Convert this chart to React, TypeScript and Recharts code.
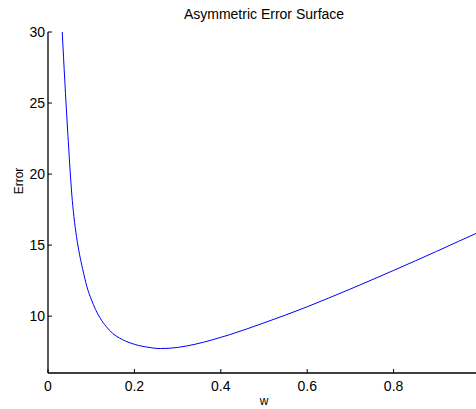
import { LineChart, Line, XAxis, YAxis } from "recharts";

const wValues = [
  0.03, 0.033, 0.036, 0.039, 0.042, 0.046, 0.05, 0.055, 0.06, 0.066, 0.073, 0.08, 0.09, 0.1,
  0.11, 0.12, 0.135, 0.15, 0.165, 0.18, 0.2, 0.22, 0.24, 0.26, 0.28, 0.3, 0.34, 0.38, 0.42,
  0.46, 0.5, 0.55, 0.6, 0.65, 0.7, 0.75, 0.8, 0.85, 0.9, 0.95, 1.0,
];
const errorValues = [
  32.0, 30.0, 28.2, 26.5, 24.85, 22.8, 20.8, 18.6, 17.0, 15.6, 14.35, 13.35, 12.08, 11.2,
  10.47, 9.9, 9.26, 8.78, 8.47, 8.24, 8.02, 7.87, 7.77, 7.72, 7.74, 7.8, 8.02, 8.33, 8.69,
  9.1, 9.53, 10.08, 10.66, 11.28, 11.91, 12.56, 13.22, 13.89, 14.57, 15.26, 15.95,
];
const xTicks = [0, 0.2, 0.4, 0.6, 0.8];
const yTicks = [10, 15, 20, 25, 30];

const data = wValues.map((w, i) => ({ w, err: errorValues[i] }));

const FONT = "'Liberation Sans', Arial, Helvetica, sans-serif";

function BottomTick(props: any) {
  const { x, y, payload } = props;
  return (
    <g>
      <line x1={x} y1={y} x2={x} y2={y - 4} stroke="#000" strokeWidth={1} />
      <text x={x} y={y + 18} textAnchor="middle" fontSize={14} fontFamily={FONT} fill="#000">
        {String(payload.value)}
      </text>
    </g>
  );
}

function TopTick(props: any) {
  const { x, y } = props;
  return <line x1={x} y1={y} x2={x} y2={y + 4} stroke="#000" strokeWidth={1} />;
}

function LeftTick(props: any) {
  const { x, y, payload } = props;
  return (
    <g>
      <line x1={x} y1={y} x2={x + 4} y2={y} stroke="#000" strokeWidth={1} />
      <text x={x - 3} y={y + 5} textAnchor="end" fontSize={14} fontFamily={FONT} fill="#000">
        {String(payload.value)}
      </text>
    </g>
  );
}

export default function App() {
  return (
    <div
      style={{
        position: "absolute",
        left: 0,
        top: 0,
        width: 476,
        height: 409,
        overflow: "hidden",
        background: "#fff",
      }}
    >
      <LineChart
        width={490}
        height={409}
        data={data}
        margin={{ top: 32, right: 10, bottom: 0, left: 0 }}
      >
        <XAxis
          dataKey="w"
          type="number"
          domain={[0, 1]}
          ticks={xTicks}
          height={36}
          tickSize={0}
          tickMargin={0}
          tickLine={false}
          tick={<BottomTick />}
          axisLine={{ stroke: "#000", strokeWidth: 1.3 }}
          interval={0}
          allowDataOverflow
        />
        <XAxis
          xAxisId="top"
          orientation="top"
          dataKey="w"
          type="number"
          domain={[0, 1]}
          ticks={xTicks}
          height={0}
          tickSize={0}
          tickMargin={0}
          tickLine={false}
          tick={<TopTick />}
          axisLine={{ stroke: "#000", strokeWidth: 1 }}
          interval={0}
        />
        <YAxis
          type="number"
          domain={[6, 30]}
          ticks={yTicks}
          width={48}
          tickSize={0}
          tickMargin={0}
          tickLine={false}
          tick={<LeftTick />}
          axisLine={{ stroke: "#000", strokeWidth: 1.3 }}
          interval={0}
          allowDataOverflow
        />
        <Line
          type="monotone"
          dataKey="err"
          stroke="#0000ff"
          strokeWidth={1}
          dot={false}
          activeDot={false}
          isAnimationActive={false}
        />
      </LineChart>
      <svg
        width={476}
        height={409}
        style={{ position: "absolute", left: 0, top: 0, pointerEvents: "none" }}
      >
        <text x={264} y={19} textAnchor="middle" fontSize={14} fontFamily={FONT} fill="#000">
          Asymmetric Error Surface
        </text>
        <text x={264} y={405} textAnchor="middle" fontSize={12} fontFamily={FONT} fill="#000">
          w
        </text>
        <text
          x={23}
          y={181}
          textAnchor="middle"
          fontSize={12}
          fontFamily={FONT}
          fill="#000"
          transform="rotate(-90 23 181)"
        >
          Error
        </text>
      </svg>
    </div>
  );
}
